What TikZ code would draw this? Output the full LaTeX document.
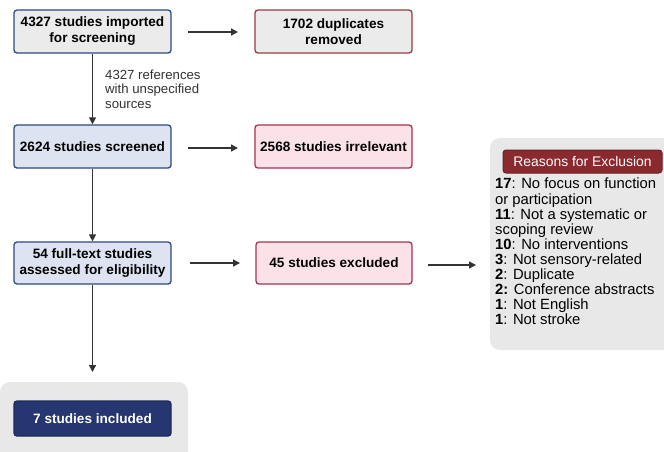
\documentclass[tikz,border=0pt]{standalone}
\usepackage{fontspec}
\setmainfont{Liberation Sans}
\usetikzlibrary{arrows.meta}
\definecolor{bluebd}{HTML}{2E4A7D}
\definecolor{bluefill}{HTML}{DDE3F0}
\definecolor{grayfill}{HTML}{EBEBEB}
\definecolor{redbd}{HTML}{A3354F}
\definecolor{redbd1}{HTML}{9C3A44}
\definecolor{pinkfill}{HTML}{FBE2E8}
\definecolor{navy}{HTML}{263670}
\definecolor{navybd}{HTML}{1F2A5A}
\definecolor{darkred}{HTML}{8A2A2E}
\definecolor{darkredbd}{HTML}{6D1F22}
\definecolor{panel}{HTML}{E8E8E8}
\definecolor{arr}{HTML}{333333}
\begin{document}
\begin{tikzpicture}[x=1pt,y=-1pt,
  box/.style={draw, line width=1.3pt, rounded corners=3pt, minimum width=157pt, align=center,
    font=\fontsize{13.6}{16}\selectfont\bfseries, text=black, inner sep=1pt},
  bluebox/.style={box, draw=bluebd, fill=bluefill, minimum height=43pt},
  redbox/.style={box, draw=redbd, fill=pinkfill, minimum height=43pt},
  conn/.style={draw=arr, line width=1.4pt, -{Triangle[length=7pt,width=7pt]}}]
\useasboundingbox (0,0) rectangle (664,451);
\fill[white] (0,0) rectangle (664,451);
% panels
\fill[panel, rounded corners=10pt] (0,382) rectangle (188,470);
\fill[panel, rounded corners=10pt] (490,138) rectangle (690,350);
% boxes
\node[bluebox, fill=grayfill] (imp) at (92.5,31.5) {4327 studies imported\\for screening};
\node[redbox, draw=redbd1, fill=grayfill] (dup) at (333.5,31.5) {1702 duplicates\\removed};
\node[bluebox] (scr) at (92.5,146.5) {2624 studies screened};
\node[redbox] (irr) at (333.5,146.5) {2568 studies irrelevant};
\node[bluebox, minimum height=42pt] (full) at (92.5,263) {54 full-text studies\\assessed for eligibility};
\node[redbox, minimum height=42pt, minimum width=156pt] (exc) at (334,263) {45 studies excluded};
\node[box, draw=navybd, fill=navy, text=white, minimum height=35pt] (inc) at (92.5,418.5) {7 studies included};
% reasons
\node[draw=darkredbd, fill=darkred, text=white, line width=1pt, rounded corners=3pt,
  minimum width=159pt, minimum height=23pt, font=\fontsize{13.9}{15}\selectfont, inner sep=1pt] (title) at (582.5,161.5) {Reasons for Exclusion};
\node[anchor=north west, inner sep=0pt, align=left, font=\fontsize{14.8}{15.1}\selectfont] (list) at (495,178)
{\textbf{17}: No focus on function\\or participation\\\textbf{11}: Not a systematic or\\scoping review\\\textbf{10}: No interventions\\\textbf{3}: Not sensory-related\\\textbf{2}: Duplicate\\\textbf{2:} Conference abstracts\\\textbf{1}: Not English\\\textbf{1}: Not stroke};
\coordinate (rs) at (476,265);
% connectors
\draw[conn] (188,32) -- (238,32);
\draw[conn] (imp) -- (scr);
\node[anchor=west, align=left, inner sep=0pt, text=arr, font=\fontsize{13.2}{14.5}\selectfont] (lab) at (105,89) {4327 references\\with unspecified\\sources};
\draw[conn] (188,148) -- (238,148);
\draw[conn] (scr) -- (full);
\draw[conn] (190,263) -- (240,263);
\draw[conn] (428,265) -- (rs);
\draw[conn] (full.south) -- (92.5,372);
\end{tikzpicture}
\end{document}
